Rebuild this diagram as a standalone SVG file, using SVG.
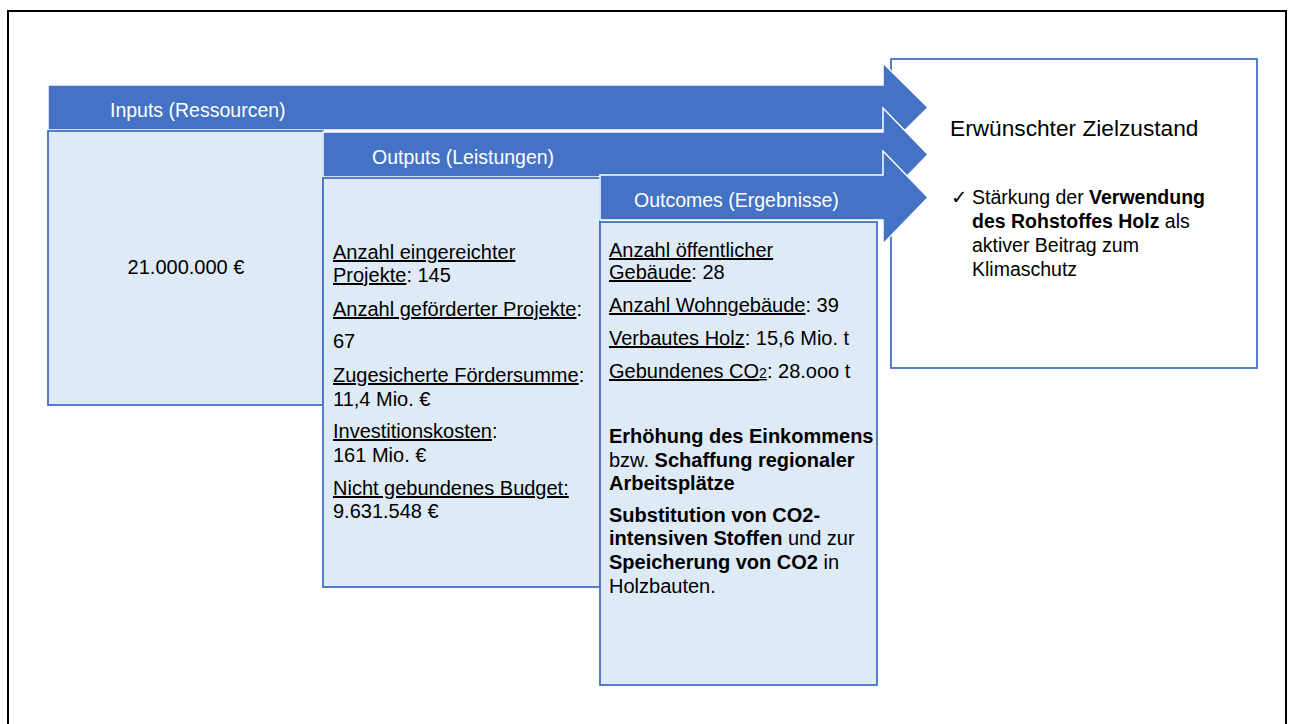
<svg xmlns="http://www.w3.org/2000/svg" width="1291" height="724" viewBox="0 0 1291 724">
<style>
.arrow{fill:#4472C4;stroke:#FFFFFF;stroke-width:1.5}
.box{fill:#DEEAF6;stroke:#4472C4;stroke-width:1.8}
.goal{fill:#FFFFFF;stroke:#4472C4;stroke-width:1.8}
.title{font-family:"Liberation Sans",Arial,sans-serif;font-size:19.5px;fill:#FFFFFF}
.t{font-family:"Liberation Sans",Arial,sans-serif;font-size:20px;fill:#000000}
.u{text-decoration:underline}
.b{font-weight:bold}
</style>
<rect x="0" y="0" width="1291" height="724" fill="#FFFFFF"/>
<rect id="frame" x="8" y="11" width="1278" height="740" fill="none" stroke="#000000" stroke-width="2"/>
<g id="goal">
<rect class="goal" x="891" y="59" width="366" height="309"/>
<text class="t" x="950" y="136" style="font-size:22.7px">Erwünschter Zielzustand</text>
<text class="t" x="951" y="204" style="font-size:19.5px;font-family:'DejaVu Sans',sans-serif">✓</text>
<text class="t" style="font-size:19.5px"><tspan x="972" y="204">Stärkung der <tspan class="b">Verwendung</tspan></tspan><tspan x="972" y="228"><tspan class="b">des Rohstoffes Holz</tspan> als</tspan><tspan x="972" y="252">aktiver Beitrag zum</tspan><tspan x="972" y="276">Klimaschutz</tspan></text>
</g>
<g id="connectors">
<polygon id="arrow-inputs" class="arrow" points="48,85 883,85 883,63 928,107.5 883,152 883,130 48,130"/>
</g>
<g id="inputs">
<rect class="box" x="48" y="131" width="275" height="274"/>
<text class="title" x="110" y="117">Inputs (Ressourcen)</text>
<text class="t" x="186" y="274" text-anchor="middle">21.000.000 €</text>
</g>
<g id="connectors-2">
<polygon id="arrow-outputs" class="arrow" points="323,132 883,132 883,108 928,154.5 883,201 883,177 323,177"/>
</g>
<g id="outputs">
<rect class="box" x="323" y="178" width="277" height="409"/>
<text class="title" x="372" y="164">Outputs (Leistungen)</text>
<text class="t">
<tspan x="333" y="259" class="u">Anzahl eingereichter</tspan>
<tspan x="333" y="282"><tspan class="u">Projekte</tspan>: 145</tspan>
<tspan x="333" y="316"><tspan class="u">Anzahl geförderter Projekte</tspan>:</tspan>
<tspan x="333" y="348">67</tspan>
<tspan x="333" y="382"><tspan class="u">Zugesicherte Fördersumme</tspan>:</tspan>
<tspan x="333" y="406">11,4 Mio. €</tspan>
<tspan x="333" y="438"><tspan class="u">Investitionskosten</tspan>:</tspan>
<tspan x="333" y="462">161 Mio. €</tspan>
<tspan x="333" y="495" class="u">Nicht gebundenes Budget:</tspan>
<tspan x="333" y="518">9.631.548 €</tspan>
</text>
</g>
<g id="connectors-3">
<polygon id="arrow-outcomes" class="arrow" points="600,175 883,175 883,151 928,197.5 883,244 883,220 600,220"/>
</g>
<g id="outcomes">
<rect class="box" x="600" y="222" width="277" height="463"/>
<text class="title" x="634" y="207">Outcomes (Ergebnisse)</text>
<text class="t">
<tspan x="609" y="257" class="u">Anzahl öffentlicher</tspan>
<tspan x="609" y="279"><tspan class="u">Gebäude</tspan>: 28</tspan>
<tspan x="609" y="312"><tspan class="u">Anzahl Wohngebäude</tspan>: 39</tspan>
<tspan x="609" y="345"><tspan class="u">Verbautes Holz</tspan>: 15,6 Mio. t</tspan>
<tspan x="609" y="378"><tspan class="u">Gebundenes CO<tspan style="font-size:14px">2</tspan></tspan>: 28.ooo t</tspan>
<tspan x="609" y="443" class="b">Erhöhung des Einkommens</tspan>
<tspan x="609" y="467">bzw. <tspan class="b">Schaffung regionaler</tspan></tspan>
<tspan x="609" y="490" class="b">Arbeitsplätze</tspan>
<tspan x="609" y="522" class="b">Substitution von CO2-</tspan>
<tspan x="609" y="545"><tspan class="b">intensiven Stoffen</tspan> und zur</tspan>
<tspan x="609" y="569"><tspan class="b">Speicherung von CO2</tspan> in</tspan>
<tspan x="609" y="593">Holzbauten.</tspan>
</text>
</g>
</svg>
